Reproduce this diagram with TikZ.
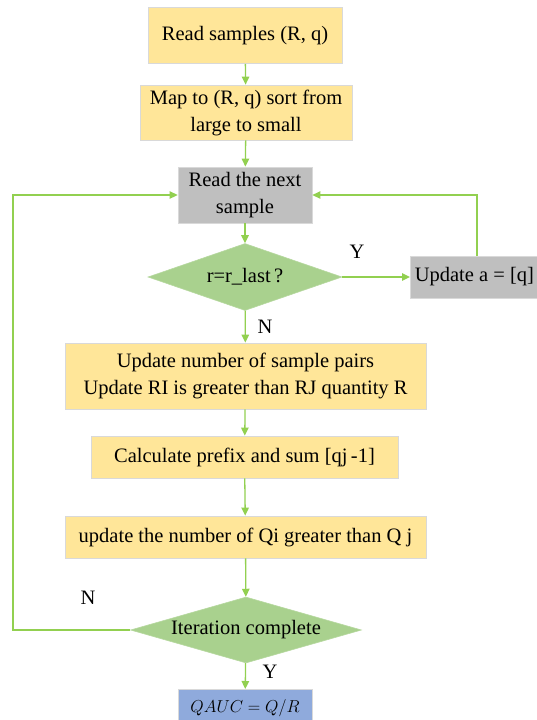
\documentclass[tikz,border=0pt]{standalone}
\usepackage{fontspec}
\setmainfont{Liberation Serif}
\usetikzlibrary{shapes.geometric,arrows.meta}
\definecolor{boxgold}{HTML}{FFE699}
\definecolor{boxgray}{HTML}{BFBFBF}
\definecolor{decgreen}{HTML}{A9D18E}
\definecolor{endblue}{HTML}{8FAADC}
\definecolor{flowgreen}{HTML}{92D050}
\definecolor{edgegray}{HTML}{D9D9D9}
\newcommand\flowfont{\fontsize{20.5pt}{27pt}\selectfont}
\begin{document}
\begin{tikzpicture}[x=1pt,y=-1pt,
  every node/.style={font=\flowfont, inner sep=0pt, align=center},
  procbox/.style={rectangle, draw=edgegray, line width=0.8pt, fill=boxgold},
  graybox/.style={rectangle, draw=edgegray, line width=0.8pt, fill=boxgray},
  decision/.style={diamond, fill=decgreen, draw=decgreen!85!white, line width=0.6pt},
  endbox/.style={rectangle, draw=edgegray, line width=0.8pt, fill=endblue},
  flow/.style={draw=flowgreen, line width=1.3pt, -{Triangle[length=8pt,width=7.5pt]}},
  tag/.style={font=\flowfont}]
\useasboundingbox (0,0) rectangle (537,720);

% process chain
\node[procbox, minimum width=194, minimum height=56] (readS) at (245,35.5) {Read samples (R, q)};
\node[procbox, minimum width=212, minimum height=55] (mapS) at (246,112.5) {Map to (R, q) sort from\\large to small};
\node[graybox, minimum width=134, minimum height=56] (nextS) at (245,195) {Read the next\\sample};
\node[decision, minimum width=194, minimum height=67, aspect=2.9] (same) at (245,277) {r=r\_last\,?};
\node[graybox, minimum width=128, minimum height=42, anchor=west] (updA) at (410,277) {Update a = [q]};
\node[procbox, minimum width=361, minimum height=66] (pairs) at (245.5,376) {Update number of sample pairs\\Update RI is greater than RJ quantity R};
\node[procbox, minimum width=307, minimum height=42] (prefix) at (244.5,457) {Calculate prefix and sum [qj\,-1]};
\node[procbox, minimum width=361, minimum height=42] (countQ) at (245.5,537) {update the number of Qi greater than Q j};
\node[decision, minimum width=231, minimum height=66, aspect=3.4] (done) at (246,630) {Iteration complete};
\node[endbox, minimum width=134, minimum height=38, anchor=north, font=\fontsize{18.5pt}{24pt}\selectfont] (result) at (245,689) {$QAUC = Q/R$};

% connectors
\draw[flow] (readS) -- (mapS);
\draw[flow] (mapS) -- (nextS);
\draw[flow] (nextS) -- (same);
\draw[flow] (same) -- (updA);
\draw[flow] (updA.north -| 477,0) |- (nextS.east);
\draw[flow] (same) -- (pairs);
\draw[flow] (pairs) -- (prefix);
\draw[flow] (prefix) -- (countQ);
\draw[flow] (countQ) -- (done);
\coordinate (loopL) at (13,630);
\draw[flow] (done.west) -- (loopL) |- (nextS.west);
\draw[flow] (done) -- (result);

% branch labels
\node[tag] (yesA) at (357,252) {Y};
\node[tag] (noA) at (265,327) {N};
\node[tag] (noB) at (88,598) {N};
\node[tag] (yesB) at (270,672) {Y};
\end{tikzpicture}
\end{document}
